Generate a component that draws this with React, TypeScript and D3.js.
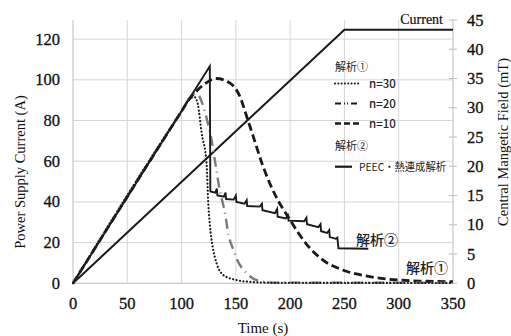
import React, { useRef, useEffect } from "react";
import { select, scaleLinear, line, curveMonotoneX, curveLinear } from "d3";

// time ticks (s) and axis ticks
const timeTicks = [0, 50, 100, 150, 200, 250, 300, 350];
const currentTicks = [0, 20, 40, 60, 80, 100, 120];
const fieldTicks = [0, 5, 10, 15, 20, 25, 30, 35, 40, 45];

// power supply current (A) vs time
const supplyCurrent = [[0, 0], [250, 124.6], [350, 124.6]];

// central magnetic field (mT), analysis 1, n=30
const n30 = [
    [0, 0], [100, 29.4], [108, 31.6], [112, 31.8], [115, 30.6], [118.5, 25.7],
    [123, 20.5], [124.6, 13.7], [126.2, 9.7], [128.6, 6.3], [132.3, 3.4],
    [138.5, 1.4], [150.8, 0.55], [166, 0.2], [190, 0.08], [350, 0.05]
];
// n=20
const n20 = [
    [0, 0], [100, 29.4], [110, 32.2], [114, 32.4], [119, 30.8], [124, 27.5],
    [127.6, 24.5], [130.6, 21.1], [135.4, 15.7], [138.5, 13.3], [140, 12],
    [143.2, 8.3], [147.8, 5.7], [150.8, 4.2], [160, 1.7], [170.6, 0.45],
    [185, 0.12], [350, 0.08]
];
// n=10
const n10 = [
    [0, 0], [100, 29.4], [108, 31.7], [112.4, 32.6], [120, 33.9], [132, 35.0],
    [144.6, 34.2], [153.8, 31.9], [160, 28.5], [166, 25.1], [175, 20.0],
    [187, 14.8], [199, 11.1], [214.6, 6.8], [230, 4.0], [248, 2.3],
    [270, 1.25], [291, 0.7], [320, 0.38], [350, 0.28]
];
// analysis 2, PEEC + thermal coupled
const peec = [
    [0, 0], [126, 37.1], [126.5, 15.7], [131, 15.5], [132.5, 16.2], [133, 15.0],
    [139, 14.8], [140.5, 15.5], [141, 14.4], [148, 14.3], [150, 15.0], [150.5, 13.9],
    [158, 13.6], [160, 14.2], [160.5, 13.2], [172, 13.1], [174, 13.6], [174.5, 12.5],
    [186, 12.0], [188, 12.7], [188.5, 11.4], [196, 11.1], [198, 11.6], [198.5, 10.7],
    [213, 10.6], [215, 11.2], [215.5, 10.1], [226, 9.6], [228, 10.1], [228.5, 8.9],
    [234, 8.6], [236, 9.1], [236.5, 7.9], [242, 7.6], [243.5, 7.8], [244.5, 6.0],
    [272, 5.9]
];

const W = 511;
const H = 336;
const plot = { left: 73, right: 453, top: 20, bottom: 283.3 };
const serif = "'Liberation Serif', 'Times New Roman', serif";
const jp = "'Noto Sans CJK JP', 'Noto Sans', sans-serif";

const App = () => {
    const svgRef = useRef(null);

    useEffect(() => {
        const svg = select(svgRef.current);
        svg.selectAll("*").remove();

        const x = scaleLinear().domain([0, 350]).range([plot.left, plot.right]);
        const yA = scaleLinear().domain([0, 129.4]).range([plot.bottom, plot.top]);
        const yB = scaleLinear().domain([0, 45]).range([plot.bottom, plot.top]);

        svg.append("rect").attr("width", W).attr("height", H).attr("fill", "#fff");

        // grid
        svg.selectAll(".hgrid").data(currentTicks.slice(1)).enter().append("line")
            .attr("x1", plot.left).attr("x2", plot.right)
            .attr("y1", d => yA(d)).attr("y2", d => yA(d))
            .attr("stroke", "#d6d6d6").attr("stroke-width", 1);
        svg.selectAll(".vgrid").data(timeTicks.slice(1, -1)).enter().append("line")
            .attr("x1", d => x(d)).attr("x2", d => x(d))
            .attr("y1", plot.top).attr("y2", plot.bottom)
            .attr("stroke", "#d6d6d6").attr("stroke-width", 1);

        // axis lines
        svg.append("line").attr("x1", plot.left).attr("x2", plot.left)
            .attr("y1", plot.top).attr("y2", plot.bottom).attr("stroke", "#bdbdbd");
        svg.append("line").attr("x1", plot.right).attr("x2", plot.right)
            .attr("y1", plot.top).attr("y2", plot.bottom).attr("stroke", "#bdbdbd");
        svg.append("line").attr("x1", plot.left).attr("x2", plot.right)
            .attr("y1", plot.bottom).attr("y2", plot.bottom).attr("stroke", "#bdbdbd");
        svg.selectAll(".rtick").data(fieldTicks).enter().append("line")
            .attr("x1", plot.right - 4).attr("x2", plot.right + 4)
            .attr("y1", d => yB(d)).attr("y2", d => yB(d))
            .attr("stroke", "#bdbdbd");

        // tick labels
        const tickText = (sel) => sel.attr("font-family", serif).attr("font-size", 16.5)
            .attr("fill", "#111").attr("stroke", "#111").attr("stroke-width", 0.3);
        svg.selectAll(".xl").data(timeTicks).enter().append("text")
            .attr("x", d => x(d)).attr("y", 309)
            .attr("text-anchor", "middle").call(tickText).text(d => d);
        svg.selectAll(".yl").data(currentTicks).enter().append("text")
            .attr("x", 60).attr("y", d => yA(d) + 5.5)
            .attr("text-anchor", "end").call(tickText).text(d => d);
        svg.selectAll(".rl").data(fieldTicks).enter().append("text")
            .attr("x", 467).attr("y", d => yB(d) + 5.5)
            .attr("text-anchor", "start").call(tickText).text(d => d);

        // axis titles
        svg.append("text").attr("x", 263).attr("y", 333)
            .attr("text-anchor", "middle").attr("font-family", serif)
            .attr("font-size", 15).attr("fill", "#111").text("Time (s)");
        svg.append("text").attr("transform", "translate(25,172) rotate(-90)")
            .attr("text-anchor", "middle").attr("font-family", serif)
            .attr("font-size", 14.5).attr("fill", "#111").text("Power Supply Current (A)");
        svg.append("text").attr("transform", "translate(508,142) rotate(-90)")
            .attr("text-anchor", "middle").attr("font-family", serif)
            .attr("font-size", 14.5).attr("fill", "#111").text("Central Mangetic Field (mT)");

        const lineA = line().x(d => x(d[0])).y(d => yA(d[1])).curve(curveLinear);
        const lineB = line().x(d => x(d[0])).y(d => yB(d[1])).curve(curveMonotoneX);
        const lineBLin = line().x(d => x(d[0])).y(d => yB(d[1])).curve(curveLinear);

        // current ramp
        svg.append("path").attr("d", lineA(supplyCurrent)).attr("fill", "none")
            .attr("stroke", "#1a1a1a").attr("stroke-width", 2);
        svg.append("text").attr("x", 443).attr("y", 24).attr("text-anchor", "end")
            .attr("font-family", serif).attr("font-size", 14).attr("fill", "#111")
            .attr("stroke", "#111").attr("stroke-width", 0.2).text("Current");

        const series = [
            { data: n10, stroke: "#1a1a1a", width: 2.8, dash: "8,4", cap: "butt" },
            { data: n20, stroke: "#7a7a7a", width: 2.4, dash: "10,5,1,5", cap: "butt" },
            { data: n30, stroke: "#1a1a1a", width: 2.2, dash: "0.1,3.4", cap: "round" }
        ];
        series.forEach(s => {
            svg.append("path").attr("d", lineB(s.data)).attr("fill", "none")
                .attr("stroke", s.stroke).attr("stroke-width", s.width)
                .attr("stroke-dasharray", s.dash).attr("stroke-linecap", s.cap);
        });
        svg.append("path").attr("d", lineBLin(peec)).attr("fill", "none")
            .attr("stroke", "#1a1a1a").attr("stroke-width", 1.9)
            .attr("stroke-linejoin", "miter");

        // legend
        const lg = svg.append("g").attr("font-family", jp).attr("fill", "#222");
        lg.append("text").attr("x", 335).attr("y", 71).attr("font-size", 11).text("解析①");
        const items = [
            { y: 83.5, label: "n=30", stroke: "#1a1a1a", width: 2, dash: "0.1,3.2", cap: "round" },
            { y: 103.5, label: "n=20", stroke: "#1a1a1a", width: 2.2, dash: "6,3,1,2,1,3", cap: "butt" },
            { y: 123.5, label: "n=10", stroke: "#1a1a1a", width: 2.4, dash: "6,3", cap: "butt" }
        ];
        items.forEach(it => {
            lg.append("line").attr("x1", 335).attr("x2", 359).attr("y1", it.y).attr("y2", it.y)
                .attr("stroke", it.stroke).attr("stroke-width", it.width)
                .attr("stroke-dasharray", it.dash).attr("stroke-linecap", it.cap);
            lg.append("text").attr("x", 369).attr("y", it.y + 4).attr("font-size", 11.5)
                .attr("font-weight", 500).text(it.label);
        });
        lg.append("text").attr("x", 335).attr("y", 150).attr("font-size", 11).text("解析②");
        lg.append("line").attr("x1", 335).attr("x2", 352).attr("y1", 166.7).attr("y2", 166.7)
            .attr("stroke", "#1a1a1a").attr("stroke-width", 2.2);
        lg.append("text").attr("x", 359).attr("y", 171).attr("font-size", 11)
            .attr("textLength", 87).attr("lengthAdjust", "spacingAndGlyphs").text("PEEC・熱連成解析");

        // curve labels
        svg.append("text").attr("x", 356).attr("y", 245).attr("font-family", jp)
            .attr("font-size", 14).attr("font-weight", 500).attr("fill", "#222").text("解析②");
        svg.append("text").attr("x", 406).attr("y", 273).attr("font-family", jp)
            .attr("font-size", 14).attr("font-weight", 500).attr("fill", "#222").text("解析①");
    }, []);

    return (
        <svg ref={svgRef} width={W} height={H}
            style={{ position: "absolute", left: 0, top: 0, display: "block" }}>
        </svg>
    );
};

export default App;
